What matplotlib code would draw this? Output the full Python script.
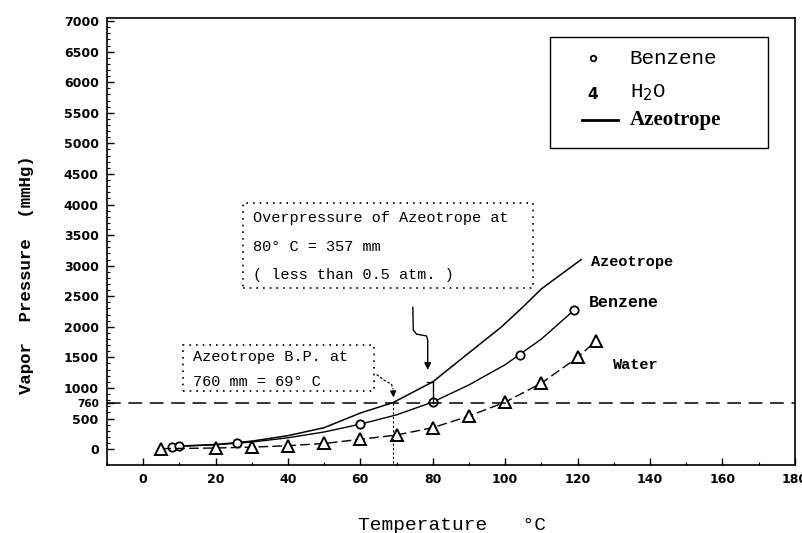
import numpy as np
import matplotlib.pyplot as plt
from matplotlib.patches import Rectangle

# values
benz_t = [8, 10, 26, 60, 80, 104, 119]
benz_p = [40, 45, 100, 408, 770, 1540, 2270]
benz_curve_t = [10, 20, 30, 40, 50, 60, 70, 80, 90, 100, 110, 119]
benz_curve_p = [45, 70, 115, 185, 280, 408, 560, 770, 1050, 1380, 1800, 2270]

water_t = [5, 20, 30, 40, 50, 60, 70, 80, 90, 100, 110, 120, 125]
water_p = [7, 18, 32, 55, 92, 160, 230, 350, 540, 768, 1078, 1500, 1765]

azeo_t = [10, 20, 30, 40, 50, 60, 69, 80, 88, 99, 105, 110, 121]
azeo_p = [50, 75, 130, 220, 350, 590, 760, 1100, 1480, 2000, 2330, 2620, 3100]

x_ticks = [0, 20, 40, 60, 80, 100, 120, 140, 160, 180]
y_ticks = list(range(0, 7001, 500))
atm = 760

mono = "Liberation Mono"

fig = plt.figure(figsize=(8.02, 5.33), dpi=100)
ax = fig.add_axes([0.1334, 0.1276, 0.8576, 0.8386])

ax.plot(azeo_t, azeo_p, color="k", lw=1.1)
ax.plot(benz_curve_t, benz_curve_p, color="k", lw=1.0)
ax.plot(benz_t, benz_p, "o", ms=6, mfc="white", mec="k", mew=1.3)
ax.plot(water_t, water_p, color="k", lw=1.0, ls=(0, (7, 3)),
        marker="^", ms=8, mfc="white", mec="k", mew=1.4)

ax.axhline(atm, color="k", lw=1.1, ls=(0, (9, 5)))

# boiling point / overpressure markers
ax.plot([69, 69], [atm, -260], color="k", lw=0.8, ls=(0, (2, 2)))
ax.plot([80, 80], [atm, 1100], color="k", lw=1.0)
ax.plot([78.5, 80], [1100, 1100], color="k", lw=1.0)

ax.set_xlim(-10, 180)
ax.set_ylim(-260, 7050)
ax.set_xticks(x_ticks)
ax.set_xticks(range(-10, 181, 10), minor=True)
ax.set_yticks(y_ticks + [atm])
ax.set_yticks(range(0, 7001, 100), minor=True)
ax.tick_params(direction="in", length=5, width=1, labelsize=9, pad=6)
ax.tick_params(which="minor", direction="in", length=2.5, width=0.8)
for lab in ax.get_yticklabels() + ax.get_xticklabels():
    lab.set_fontweight("semibold")
for lab in ax.get_yticklabels():
    if lab.get_text() == str(atm):
        lab.set_fontsize(7.5)
        lab.set_fontweight("bold")
for s in ax.spines.values():
    s.set_linewidth(1.2)

# annotation boxes
ax.add_patch(Rectangle((27.6, 2630), 80, 1390, fill=False, ls=(0, (1, 3)), lw=1.2))
ax.text(30.3, 3775, "Overpressure of Azeotrope at", family=mono, fontsize=11, va="center")
ax.text(30.3, 3300, "80° C = 357 mm", family=mono, fontsize=11, va="center")
ax.text(30.3, 2840, "( less than 0.5 atm. )", family=mono, fontsize=11, va="center")
ax.plot([74.5, 74.6, 75.5, 78.3, 78.6, 78.6], [2320, 1950, 1880, 1850, 1780, 1400], color="k", lw=1.0)
ax.annotate("", xy=(78.6, 1250), xytext=(78.6, 1450),
            arrowprops=dict(arrowstyle="-|>", color="k", lw=1.0, mutation_scale=10))

ax.add_patch(Rectangle((11, 948), 52.7, 752, fill=False, ls=(0, (1, 3)), lw=1.2))
ax.text(13.8, 1503, "Azeotrope B.P. at", family=mono, fontsize=11, va="center")
ax.text(13.8, 1095, "760 mm = 69° C", family=mono, fontsize=11, va="center")
ax.plot([64.5, 66.5, 68.6, 69.0], [1220, 1130, 1060, 980], color="k", lw=0.9, ls=(0, (2, 1.5)))
ax.annotate("", xy=(69.2, 800), xytext=(69.0, 1000),
            arrowprops=dict(arrowstyle="-|>", color="k", lw=0.9, mutation_scale=9))

# curve labels
ax.text(123.6, 3055, "Azeotrope", family=mono, fontsize=11, va="center", fontweight="bold")
ax.text(123, 2400, "Benzene", family=mono, fontsize=12, va="center", fontweight="bold")
ax.text(129.7, 1372, "Water", family=mono, fontsize=11, va="center", fontweight="bold")

# legend box
ax.add_patch(Rectangle((0.644, 0.709), 0.317, 0.248, transform=ax.transAxes,
                       fill=False, lw=1.0, color="k"))
ax.plot([0.706], [0.910], "o", ms=4, mfc="white", mec="k", mew=1.3, transform=ax.transAxes)
ax.text(0.760, 0.910, "Benzene", transform=ax.transAxes, family=mono, fontsize=15, va="center")
ax.text(0.706, 0.830, "4", transform=ax.transAxes, fontsize=11, fontweight="bold",
        ha="center", va="center")
ax.text(0.760, 0.834, r"H$_2$O", transform=ax.transAxes, family=mono, fontsize=15, va="center")
ax.plot([0.691, 0.743], [0.772, 0.772], color="k", lw=2, transform=ax.transAxes)
ax.text(0.760, 0.772, "Azeotrope", transform=ax.transAxes, family="Liberation Serif",
        fontsize=15, fontweight="bold", va="center")

fig.text(27 / 802, 1 - 275 / 533, "Vapor  Pressure  (mmHg)", family=mono, fontsize=12.5,
         fontweight="bold", rotation=90, ha="center", va="center")
fig.text(358 / 802, 0.006, "Temperature   °C", family=mono, fontsize=14, va="baseline")

fig.savefig("out.png", dpi=100)
